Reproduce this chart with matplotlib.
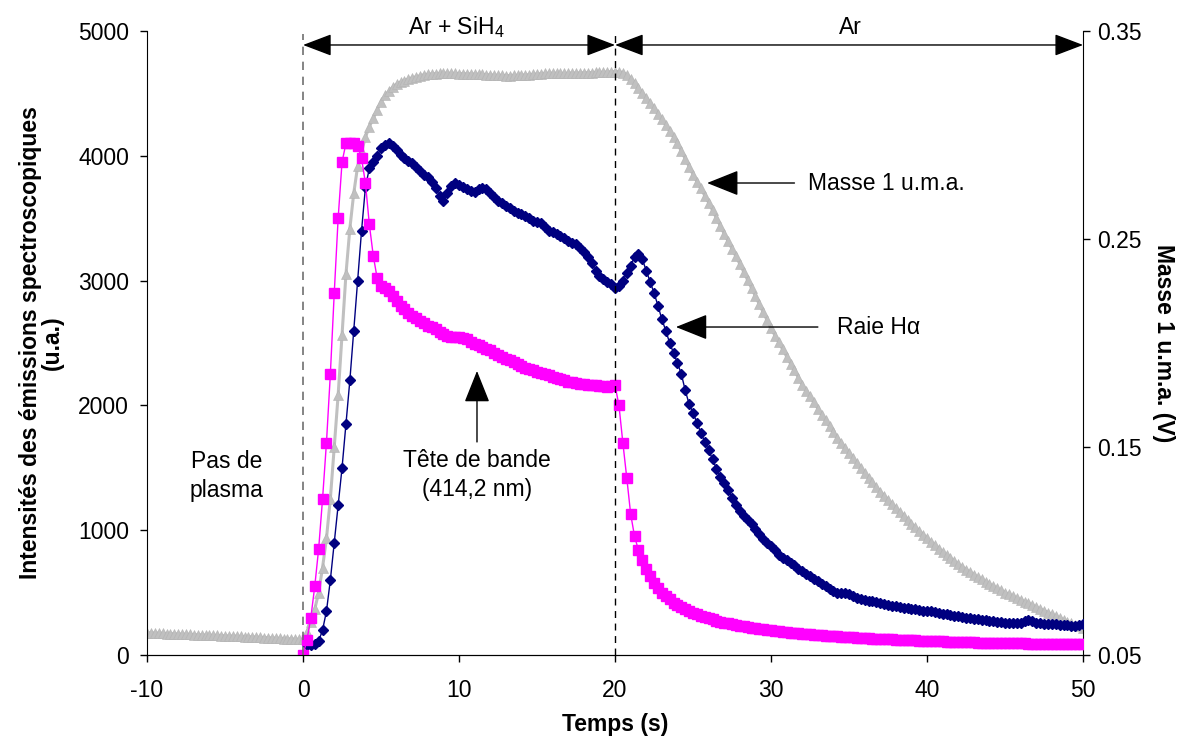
import numpy as np
import matplotlib
matplotlib.use("Agg")
import matplotlib.pyplot as plt

plt.rcParams['font.family'] = ['Liberation Sans', 'DejaVu Sans']
plt.rcParams['mathtext.default'] = 'regular'
plt.rcParams['axes.unicode_minus'] = False

# grilles de temps (s), un point tous les 0.25 s
temps_masse = np.arange(-10, 50.001, 0.25)
temps_halpha = np.arange(0.25, 50.001, 0.25)
temps_tete = np.arange(0, 50.001, 0.25)

# Masse 1 u.m.a. (V) - axe de droite
masse_1 = [
    0.0607, 0.0606, 0.0606, 0.0605, 0.0604, 0.0603, 0.0603, 0.0602, 0.0601, 0.0600,
    0.0600, 0.0599, 0.0598, 0.0597, 0.0597, 0.0596, 0.0595, 0.0594, 0.0594, 0.0593,
    0.0592, 0.0591, 0.0591, 0.0590, 0.0589, 0.0588, 0.0588, 0.0587, 0.0586, 0.0585,
    0.0584, 0.0583, 0.0582, 0.0581, 0.0580, 0.0579, 0.0578, 0.0577, 0.0576, 0.0575,
    0.0575,
    0.061, 0.066, 0.072, 0.080, 0.092, 0.106, 0.125, 0.150, 0.175, 0.204,
    0.233, 0.255, 0.272, 0.285, 0.292, 0.299, 0.304, 0.308, 0.312, 0.316,
    0.319, 0.321, 0.323, 0.3245, 0.3255, 0.3262, 0.327, 0.3275, 0.328, 0.3285,
    0.329,
    0.3292, 0.3294, 0.3295, 0.3296, 0.3297, 0.3297, 0.3296, 0.3296, 0.3295,
    0.3295, 0.3294, 0.3294, 0.3293, 0.3292, 0.3291, 0.3290, 0.3289,
    0.3288, 0.3287, 0.3287, 0.3286, 0.3286, 0.3287, 0.3287, 0.3288,
    0.3289, 0.3290, 0.3292, 0.3293, 0.3295, 0.3296, 0.3297, 0.3297,
    0.3297, 0.3296, 0.3296, 0.3297, 0.3298, 0.3298, 0.3299, 0.3299,
    0.3300, 0.3300, 0.3301, 0.3301, 0.3302, 0.3303, 0.3304, 0.3305,
    0.3305, 0.3300, 0.3290, 0.3270,
    0.3250, 0.3225, 0.3202, 0.3180,
    0.3155, 0.3130, 0.3102, 0.3075,
    0.3048, 0.3020, 0.2990, 0.2960,
    0.2923, 0.2886, 0.2848, 0.2810,
    0.2776, 0.2743, 0.2709, 0.2675,
    0.2638, 0.2600, 0.2563, 0.2525,
    0.2489, 0.2453, 0.2416, 0.2380,
    0.2341, 0.2303, 0.2264, 0.2225,
    0.2186, 0.2148, 0.2109, 0.2070,
    0.2036, 0.2003, 0.1969, 0.1935,
    0.1901, 0.1868, 0.1834, 0.1800,
    0.1771, 0.1743, 0.1714, 0.1685,
    0.1656, 0.1628, 0.1599, 0.1570,
    0.1545, 0.1520, 0.1495, 0.1470,
    0.1446, 0.1423, 0.1399, 0.1375,
    0.1353, 0.1330, 0.1308, 0.1285,
    0.1265, 0.1245, 0.1225, 0.1205,
    0.1186, 0.1168, 0.1149, 0.1130,
    0.1113, 0.1095, 0.1078, 0.1060,
    0.1044, 0.1028, 0.1011, 0.0995,
    0.0980, 0.0965, 0.0950, 0.0935,
    0.0923, 0.0910, 0.0898, 0.0885,
    0.0874, 0.0863, 0.0851, 0.0840,
    0.0830, 0.0820, 0.0810, 0.0800,
    0.0791, 0.0783, 0.0774, 0.0765,
    0.0756, 0.0748, 0.0739, 0.0730,
    0.0721, 0.0713, 0.0704, 0.0695,
    0.0686, 0.0678, 0.0669, 0.0660,
    0.0653, 0.0645, 0.0638, 0.0630,
]

# Raie H alpha (u.a.)
raie_halpha = [
    80, 80, 85, 110,
    200, 350, 600, 900,
    1200, 1500, 1850, 2200,
    2600, 3000, 3400, 3750,
    3900, 3950, 4000, 4060,
    4090, 4100, 4080, 4050,
    4010, 3980, 3960, 3940,
    3910, 3880, 3850, 3830,
    3790, 3740, 3680, 3640,
    3700, 3760, 3780, 3770,
    3750, 3730, 3720, 3710,
    3730, 3745, 3730, 3700,
    3670, 3640, 3620, 3600,
    3580, 3560, 3540, 3530,
    3520, 3500, 3480, 3470,
    3460, 3430, 3400, 3390,
    3370, 3360, 3340, 3320,
    3300, 3290, 3260, 3230,
    3190, 3140, 3080, 3040,
    3010, 2990, 2970, 2940,
    2960, 3000, 3060, 3120,
    3190, 3210, 3170, 3080,
    2990, 2900, 2800, 2690,
    2600, 2500, 2420, 2340,
    2250, 2120, 2010, 1940,
    1860, 1780, 1710, 1640,
    1570, 1490, 1430, 1380,
    1320, 1260, 1200, 1150,
    1110, 1080, 1050, 1010,
    970, 930, 900, 870,
    840, 800, 780, 760,
    740, 720, 690, 670,
    650, 630, 610, 590,
    570, 550, 530, 510,
    500, 495, 500, 490,
    475, 460, 450, 440,
    435, 430, 425, 420,
    410, 400, 395, 390,
    385, 380, 375, 370,
    365, 360, 355, 350,
    355, 345, 335, 330,
    325, 320, 315, 310,
    305, 300, 295, 290,
    285, 280, 280, 275,
    270, 265, 265, 260,
    260, 255, 255, 260,
    270, 280, 275, 260,
    255, 250, 250, 245,
    245, 240, 240, 240,
    235, 235, 240, 250,
]

# Tete de bande 414,2 nm (u.a.)
tete_bande = [
    0,
    120, 300, 550, 850,
    1250, 1700, 2250, 2900,
    3500, 3950, 4100, 4100,
    4100, 4080, 3980, 3780,
    3450, 3200, 3020, 2960,
    2940, 2920, 2880, 2840,
    2800, 2770, 2740, 2720,
    2700, 2680, 2660, 2640,
    2630, 2610, 2590, 2570,
    2560, 2550, 2550, 2545,
    2540, 2530, 2510, 2490,
    2480, 2465, 2450, 2440,
    2420, 2405, 2390, 2375,
    2360, 2345, 2330, 2315,
    2300, 2290, 2280, 2270,
    2260, 2250, 2240, 2230,
    2220, 2210, 2200, 2190,
    2185, 2180, 2175, 2170,
    2165, 2160, 2160, 2155,
    2155, 2150, 2155, 2160,
    2000, 1700, 1420, 1130,
    950, 840, 760, 690,
    630, 580, 535, 500,
    470, 445, 420, 400,
    385, 370, 355, 340,
    328, 316, 305, 295,
    285, 276, 268, 260,
    253, 247, 241, 236,
    230, 225, 220, 215,
    210, 206, 202, 198,
    193, 189, 185, 182,
    179, 176, 174, 172,
    169, 166, 163, 161,
    158, 156, 154, 152,
    150, 148, 146, 144,
    142, 140, 138, 136,
    134, 132, 131, 129,
    127, 125, 124, 122,
    121, 120, 118, 117,
    116, 114, 113, 112,
    111, 110, 109, 108,
    107, 106, 105, 104,
    103, 102, 101, 100,
    99, 99, 98, 97,
    96, 96, 95, 94,
    94, 93, 93, 92,
    92, 91, 91, 90,
    90, 90, 89, 89,
    89, 88, 88, 88,
    88, 87, 87, 87,
]

taille = 16.5

fig = plt.figure(figsize=(11.82, 7.40), dpi=100)
ax = fig.add_axes([0.1244, 0.1149, 0.7919, 0.8432])
ax2 = ax.twinx()
ax.set_zorder(ax2.get_zorder() + 1)
ax.patch.set_visible(False)

# courbes
ax2.plot(temps_masse, masse_1, color='#C0C0C0', lw=2.2, marker='^', ms=7.5,
         mfc='#C0C0C0', mec='#B2B2B2', mew=0.4)
ax.plot(temps_halpha, raie_halpha, color='#000080', lw=1, marker='D', ms=5.5,
        mfc='#000080', mec='#000080')
ax.plot(temps_tete, tete_bande, color='#FF00FF', lw=1, marker='s', ms=6.5,
        mfc='#FF00FF', mec='#FF00FF')

# axes
ax.set_xlim(-10, 50)
ax.set_ylim(0, 5000)
ax2.set_ylim(0.05, 0.35)
ax.set_xticks(np.arange(-10, 51, 10))
ax.set_yticks(np.arange(0, 5001, 1000))
ax2.set_yticks([0.05, 0.15, 0.25, 0.35])
ax2.set_yticklabels(['0.05', '0.15', '0.25', '0.35'])

for a in (ax, ax2):
    a.spines['top'].set_visible(False)
    a.tick_params(direction='out', length=5, width=1, labelsize=taille, colors='black')
ax.spines['right'].set_visible(False)
ax2.spines['left'].set_visible(False)
ax.tick_params(axis='x', pad=12)
ax.tick_params(axis='y', pad=8)
ax2.tick_params(axis='y', pad=5)

ax.set_xlabel('Temps (s)', fontsize=taille, fontweight='bold', labelpad=8)
ax.set_ylabel('Intensités des émissions spectroscopiques\n(u.a.)', fontsize=taille,
              fontweight='bold', labelpad=10, linespacing=0.95)
ax2.set_ylabel('Masse 1 u.m.a. (V)', fontsize=taille, fontweight='bold',
               rotation=-90, labelpad=24)

# lignes verticales pointillees
ax.plot([0, 0], [0, 4975], color='#707070', lw=1.2, ls=(0, (5, 4)))
ax.plot([20, 20], [0, 4975], color='black', lw=1, ls=(0, (5, 4)))

# fleches du haut
fleche_haut = dict(arrowstyle='<|-|>,head_length=1.0,head_width=0.38',
                   mutation_scale=18, color='black', lw=1, shrinkA=0, shrinkB=0)
ax.annotate('', xy=(0, 4888), xytext=(20, 4888), arrowprops=fleche_haut,
            annotation_clip=False)
ax.annotate('', xy=(20, 4888), xytext=(50, 4888), arrowprops=fleche_haut,
            annotation_clip=False)
ax.text(9.8, 5030, 'Ar + SiH$_4$', fontsize=taille, ha='center', va='center', clip_on=False)
ax.text(35.1, 5030, 'Ar', fontsize=taille, ha='center', va='center', clip_on=False)

# annotations
fleche = dict(arrowstyle='-|>,head_length=1.0,head_width=0.4',
              mutation_scale=20, color='black', lw=1, shrinkA=0, shrinkB=0)
ax.annotate('', xy=(25.9, 3782), xytext=(31.5, 3782), arrowprops=fleche)
ax.text(32.4, 3782, 'Masse 1 u.m.a.', fontsize=taille, ha='left', va='center')

ax.annotate('', xy=(23.9, 2628), xytext=(33.0, 2628), arrowprops=fleche)
ax.text(34.2, 2628, 'Raie Hα', fontsize=taille, ha='left', va='center')

ax.annotate('', xy=(11.15, 2276), xytext=(11.15, 1707), arrowprops=fleche)
ax.text(11.15, 1442, 'Tête de bande\n(414,2 nm)', fontsize=taille, ha='center',
        va='center', linespacing=1.3)

ax.text(-4.9, 1434, 'Pas de\nplasma', fontsize=taille, ha='center', va='center',
        linespacing=1.3)

plt.savefig('out.png', dpi=100)
